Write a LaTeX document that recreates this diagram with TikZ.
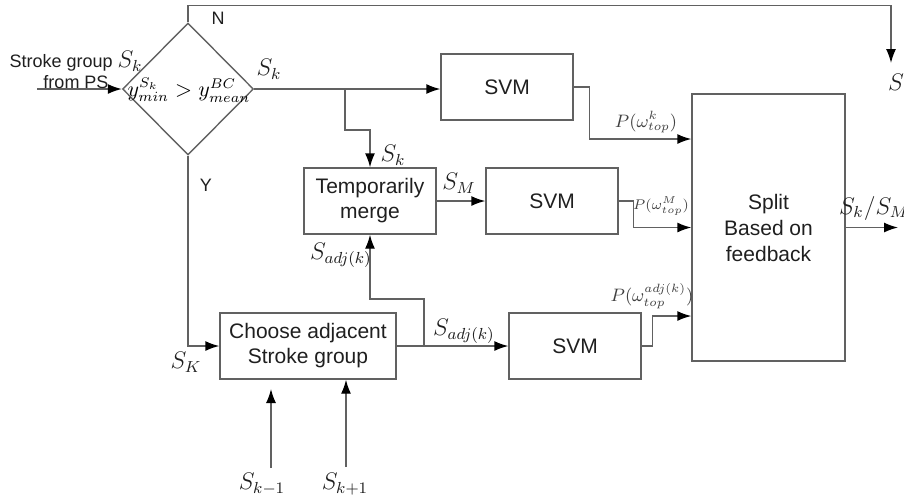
\documentclass[tikz,border=0pt]{standalone}
\usepackage{fontspec}
\setsansfont{Liberation Sans}
\usetikzlibrary{shapes.geometric,arrows.meta}
\begin{document}
\begin{tikzpicture}[x=0.5pt,y=-0.5pt,
    >={Latex[length=7pt,width=5pt,color=black]},
    box/.style={rectangle,draw=black!62,line width=0.7pt,align=center,
        font=\sffamily\fontsize{10.5}{12.5}\selectfont,text=black!88,
        minimum width=66pt,minimum height=33pt,inner sep=2pt},
    lbl/.style={inner sep=0pt,text=black!88,font=\fontsize{12}{14}\selectfont},
    plbl/.style={inner sep=0pt,text=black!75,font=\fontsize{9}{11}\selectfont},
    txt/.style={inner sep=0pt,text=black!88,font=\sffamily\fontsize{9}{10.5}\selectfont},
    wire/.style={->,draw=black!62,line width=0.7pt}]
    \useasboundingbox (0,0) rectangle (904,500);

    \node[diamond,draw=black!62,line width=0.7pt,aspect=1,inner sep=0pt,
          minimum width=65.5pt,minimum height=66pt] (dec) at (188,89) {};
    \node[inner sep=0pt,font=\fontsize{10.5}{13}\selectfont] (cond) at (189,90) {$y^{S_k}_{min} > y^{BC}_{mean}$};
    \node[box] (svmA) at (507,87) {SVM};
    \node[box] (temp) at (370,201) {Temporarily\\merge};
    \node[box] (svmB) at (552,201) {SVM};
    \node[box,minimum width=88pt] (choose) at (308,346) {Choose adjacent\\Stroke group};
    \node[box] (svmC) at (575,346) {SVM};
    \node[box,minimum width=76.5pt,minimum height=133.5pt,
          font=\sffamily\fontsize{10.5}{13}\selectfont] (split) at (768.5,227.5) {Split\\Based on\\feedback};

    % free ends
    \coordinate (src) at (37,89);
    \coordinate (nEnd) at (891,63);
    \coordinate (brA) at (345,89);
    \coordinate (brB) at (424,346);
    \coordinate (res) at (898,227.5);
    \coordinate (km) at (271,468);
    \coordinate (kp) at (346,467);

    \draw[wire] (src) -- (dec.west);
    \draw[wire] (dec.north) -- ++(0,-17) -| (nEnd);
    \draw[wire] (dec.east) -- (dec.east -| svmA.west);
    \draw[wire] (brA) -- ++(0,41) -| (temp.north);
    \draw[wire] (svmA.east) -- ++(16,0) |- ([yshift=44.25pt]split.west);
    \draw[wire] (temp.east) -- (svmB.west);
    \draw[wire] (svmB.east) -- ++(15,0) |- (split.west);
    \draw[wire] (svmC.east) -- ++(11,0) |- ([yshift=-44.25pt]split.west);
    \draw[wire] (split.east) -- (res);
    \draw[wire] (dec.south) |- (choose.west);
    \draw[wire] (choose.east) -- (svmC.west);
    \draw[wire] (brB) -- ++(0,-47) -| (temp.south);
    \draw[wire] (km) -- ++(0,-79);
    \draw[wire] (kp) -- (kp |- choose.south);

    \node[txt,align=center] (srcLbl) at (76,70) {Stroke group {\rmfamily\fontsize{12}{14}\selectfont$S_k$}\\from PS};
    \node[txt] (nLbl) at (218,18) {N};
    \node[txt] (yLbl) at (206,185) {Y};
    \node[lbl] (sOut) at (896,82) {$S$};
    \node[lbl] (skA) at (269,69) {$S_k$};
    \node[lbl] (skB) at (393,155) {$S_k$};
    \node[lbl] (smLbl) at (459,183) {$S_M$};
    \node[lbl] (adjA) at (341,255) {$S_{adj(k)}$};
    \node[lbl] (adjB) at (464,331) {$S_{adj(k)}$};
    \node[lbl] (sK) at (186,362) {$S_K$};
    \node[lbl] (skm) at (262,484) {$S_{k-1}$};
    \node[lbl] (skp) at (345,484) {$S_{k+1}$};
    \node[lbl,font=\fontsize{11.5}{14}\selectfont] (resLbl) at (874,208) {$S_k/S_M$};
    \node[plbl] (pA) at (646,122) {$P(\omega^{k}_{top})$};
    \node[plbl,font=\fontsize{7.5}{9}\selectfont] (pB) at (661,206) {$P(\omega^{M}_{top})$};
    \node[plbl] (pC) at (652,296) {$P(\omega^{adj(k)}_{top})$};
\end{tikzpicture}
\end{document}
